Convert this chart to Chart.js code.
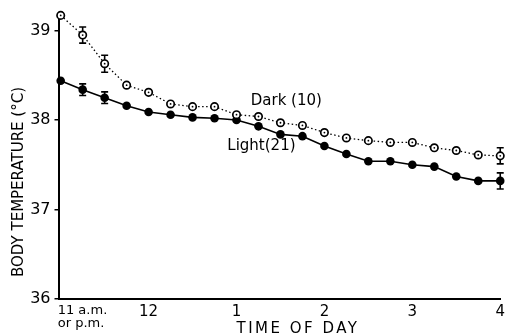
<!DOCTYPE html>
<html><head><meta charset="utf-8">
<script src="https://cdn.jsdelivr.net/npm/chart.js@4"></script>
<style>html,body{margin:0;padding:0;background:#fff}</style>
</head><body>
<canvas id="c" width="509" height="336"></canvas>
<script>
// minutes after 11 o'clock
const minutes = [0,15,30,45,60,75,90,105,120,135,150,165,180,195,210,225,240,255,270,285,300];
const darkTemp = [39.17,38.95,38.63,38.39,38.31,38.18,38.15,38.15,38.06,38.04,37.97,37.94,37.86,37.80,37.77,37.75,37.75,37.69,37.66,37.61,37.60];
const darkErr  = [0,0.09,0.095,0,0,0,0,0,0,0,0,0,0,0,0,0,0,0,0,0,0.09];
const lightTemp = [38.44,38.34,38.25,38.16,38.09,38.06,38.03,38.02,38.00,37.93,37.84,37.82,37.71,37.62,37.54,37.54,37.50,37.48,37.37,37.32,37.32];
const lightErr  = [0,0.065,0.065,0,0,0,0,0,0,0,0,0,0,0,0,0,0,0,0,0,0.09];
const xTickValues = [0,60,120,180,240,300];
const xTickLabels = [['11 a.m.','or p.m.'],'12','1','2','3','4'];
const yTickValues = [36,37,38,39];
const seriesNames = ['Dark (10)','Light(21)'];
const yTitle = 'BODY TEMPERATURE (°C)';
const xTitle = 'TIME OF DAY';

const FONT = 'DejaVu Sans';

const openDotStyle = (ctx) => {
  return 'circle';
};

const errPlugin = {
  id:'errbars',
  beforeDatasetsDraw(chart){
    const ctx = chart.ctx, xs = chart.scales.x, ys = chart.scales.y;
    ctx.save();
    ctx.strokeStyle='#000'; ctx.lineWidth=1.6;
    chart.data.datasets.forEach(ds=>{
      ds.data.forEach((p,i)=>{
        const e = ds.err[i]; if(!e) return;
        const x = xs.getPixelForValue(p.x);
        const y1 = ys.getPixelForValue(p.y+e), y2 = ys.getPixelForValue(p.y-e);
        ctx.beginPath();
        ctx.moveTo(x,y1); ctx.lineTo(x,y2);
        ctx.moveTo(x-3.5,y1); ctx.lineTo(x+3.5,y1);
        ctx.moveTo(x-3.5,y2); ctx.lineTo(x+3.5,y2);
        ctx.stroke();
      });
    });
    ctx.restore();
  }
};

// center dots of the open circles, drawn at the library's own point positions
const centerDotPlugin = {
  id:'centerdots',
  afterDatasetsDraw(chart){
    const ctx = chart.ctx;
    const meta = chart.getDatasetMeta(0);
    ctx.save(); ctx.fillStyle='#000';
    meta.data.forEach(pt=>{
      ctx.beginPath(); ctx.arc(pt.x, pt.y, 0.9, 0, Math.PI*2); ctx.fill();
    });
    ctx.restore();
  }
};

const textPlugin = {
  id:'texts',
  afterDraw(chart){
    const ctx = chart.ctx, xs = chart.scales.x, ys = chart.scales.y;
    ctx.save();
    ctx.fillStyle='#000';
    ctx.font = '15px "'+FONT+'"';
    ctx.textAlign='center'; ctx.textBaseline='middle';
    ctx.save(); ctx.translate(19,182); ctx.rotate(-Math.PI/2); ctx.fillText(yTitle,0,0); ctx.restore();
    ctx.font = '15px "'+FONT+'"';
    if ('letterSpacing' in ctx) ctx.letterSpacing = '2.5px';
    ctx.fillText(xTitle, 298, 329);
    if ('letterSpacing' in ctx) ctx.letterSpacing = '0px';
    ctx.font = '13px "'+FONT+'"';
    ctx.textAlign='left';
    const x0 = xs.getPixelForValue(xTickValues[0]) - 3;
    ctx.fillText(xTickLabels[0][0], x0, 311);
    ctx.fillText(xTickLabels[0][1], x0, 324);
    ctx.font = '15px "'+FONT+'"';
    ctx.textAlign='center';
    ctx.fillText(seriesNames[0], xs.getPixelForValue(154), ys.getPixelForValue(38.21));
    ctx.fillText(seriesNames[1], xs.getPixelForValue(137), ys.getPixelForValue(37.71));
    ctx.restore();
  }
};

new Chart(document.getElementById('c'), {
  type:'line',
  data:{datasets:[
    {label:seriesNames[0], data:minutes.map((m,i)=>({x:m,y:darkTemp[i]})), err:darkErr, clip:false,
     borderColor:'#000', borderWidth:1.3, borderDash:[1.5,2.5], pointStyle:'circle', pointRadius:3.7,
     pointBackgroundColor:'#fff', pointBorderColor:'#000', pointBorderWidth:1.7, tension:0},
    {label:seriesNames[1], data:minutes.map((m,i)=>({x:m,y:lightTemp[i]})), err:lightErr, clip:false,
     borderColor:'#000', borderWidth:1.6, pointStyle:'circle', pointRadius:4.3, pointBackgroundColor:'#000', pointBorderWidth:0, tension:0}
  ]},
  options:{
    responsive:false, animation:false, devicePixelRatio:1,
    layout:{padding:{top:13,right:7,left:0,bottom:0}},
    plugins:{legend:{display:false}, tooltip:{enabled:false}},
    scales:{
      x:{type:'linear', min:-1.5, max:300,
        afterBuildTicks:s=>{s.ticks = xTickValues.map(v=>({value:v}));},
        afterFit:s=>{s.height=37;},
        grid:{display:false, drawTicks:false},
        border:{display:true, color:'#000', width:2},
        ticks:{padding:4, color:'#000', autoSkip:false, maxRotation:0, font:{family:FONT, size:15},
          callback:(v,i)=> i===0 ? '' : xTickLabels[i]}
      },
      y:{min:36, max:39.19,
        afterBuildTicks:s=>{s.ticks = yTickValues.map(v=>({value:v}));},
        afterFit:s=>{s.width=58.5;},
        grid:{drawOnChartArea:false, drawTicks:true, tickLength:4, color:'#000', lineWidth:1.5},
        border:{display:true, color:'#000', width:2},
        ticks:{padding:4, color:'#000', font:{family:FONT, size:16}, callback:v=>String(v)}
      }
    }
  },
  plugins:[errPlugin, centerDotPlugin, textPlugin]
});
</script>
</body></html>
